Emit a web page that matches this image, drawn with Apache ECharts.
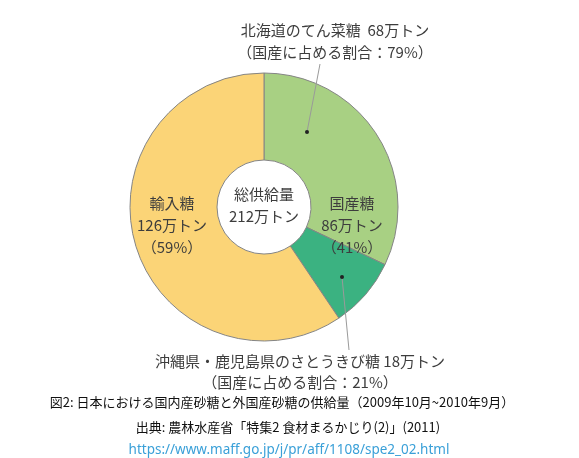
<!DOCTYPE html>
<html>
<head>
<meta charset="utf-8">
<script src="https://cdn.jsdelivr.net/npm/echarts@6/dist/echarts.min.js"></script>
<style>
  html, body { margin: 0; padding: 0; background: #fff; }
  #chart { width: 579px; height: 458px; }
</style>
</head>
<body>
<div id="chart"></div>
<script>
const sliceNames = ["北海道のてん菜糖", "沖縄県・鹿児島県のさとうきび糖", "輸入糖"];
const sliceValues = [68, 18, 126];
const sliceColors = ["#a8d083", "#3bb281", "#fbd477"];

const jpFont = "'Noto Sans CJK JP', sans-serif";
const labelColor = "#3d3d3d";

const chart = echarts.init(document.getElementById("chart"));

const text = (x, y, str, opts = {}) => ({
  type: "text",
  x,
  y,
  style: {
    text: str,
    fill: opts.color || labelColor,
    font: `${opts.size || 15}px ${opts.font || jpFont}`,
    align: "center",
    verticalAlign: "middle",
    lineHeight: opts.lineHeight || 22,
  },
  z: 10,
});

const option = {
  animation: false,
  backgroundColor: "#fff",
  series: [
    {
      type: "pie",
      center: [264, 207],
      radius: [47, 134],
      startAngle: 90,
      clockwise: true,
      label: { show: false },
      labelLine: { show: false },
      itemStyle: { borderColor: "#858585", borderWidth: 1 },
      data: sliceNames.map((name, i) => ({
        name,
        value: sliceValues[i],
        itemStyle: { color: sliceColors[i] },
      })),
    },
  ],
  graphic: [
    text(264, 205, "総供給量\n212万トン"),
    text(172, 225, "輸入糖\n126万トン\n（59%）"),
    text(352, 225, "国産糖\n86万トン\n（41%）"),
    text(335, 41, "北海道のてん菜糖  68万トン\n（国産に占める割合：79%）"),
    text(300, 372, "沖縄県・鹿児島県のさとうきび糖 18万トン\n（国産に占める割合：21%）", { lineHeight: 21 }),
    {
      type: "line",
      shape: { x1: 320, y1: 64, x2: 307, y2: 132 },
      style: { stroke: "#9a9a9a", lineWidth: 1 },
      z: 10,
    },
    { type: "circle", shape: { cx: 307, cy: 132, r: 2 }, style: { fill: "#222" }, z: 11 },
    {
      type: "line",
      shape: { x1: 342, y1: 277, x2: 349, y2: 350 },
      style: { stroke: "#9a9a9a", lineWidth: 1 },
      z: 10,
    },
    { type: "circle", shape: { cx: 342, cy: 277, r: 2 }, style: { fill: "#222" }, z: 11 },
    text(282, 402, "図2: 日本における国内産砂糖と外国産砂糖の供給量（2009年10月~2010年9月）", { size: 13, color: "#111" }),
    text(288, 427, "出典: 農林水産省「特集2 食材まるかじり(2)」(2011)", { size: 13, color: "#111" }),
    text(289, 450, "https://www.maff.go.jp/j/pr/aff/1108/spe2_02.html", { size: 13.5, color: "#3aa0d8", font: "'Noto Sans', sans-serif" }),
  ],
};

chart.setOption(option);
</script>
</body>
</html>
